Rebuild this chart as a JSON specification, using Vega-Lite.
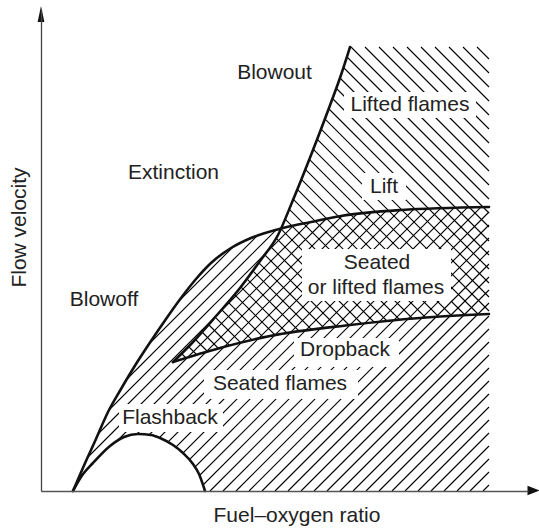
{
  "$schema": "https://vega.github.io/schema/vega-lite/v6.json",
  "width": 487,
  "height": 481,
  "autosize": {"type": "none"},
  "padding": {"left": 41, "top": 10, "right": 11, "bottom": 38},
  "config": {"view": {"stroke": null}, "font": "Liberation Sans"},
  "datasets": {
    "hatchB": [
      {"u":132,"v":132,"u2":135,"v2":129},{"u":132,"v":146,"u2":149,"v2":129},{"u":132,"v":160,"u2":163,"v2":129},
      {"u":132,"v":174,"u2":177,"v2":129},{"u":132,"v":188,"u2":191,"v2":129},{"u":132,"v":202,"u2":205,"v2":129},
      {"u":132,"v":216,"u2":219,"v2":129},{"u":132,"v":230,"u2":233,"v2":129},{"u":132,"v":244,"u2":247,"v2":129},
      {"u":132,"v":258,"u2":261,"v2":129},{"u":132,"v":272,"u2":275,"v2":129},{"u":132,"v":286,"u2":289,"v2":129},
      {"u":132,"v":300,"u2":303,"v2":129},{"u":132,"v":314,"u2":317,"v2":129},{"u":132,"v":328,"u2":331,"v2":129},
      {"u":132,"v":342,"u2":345,"v2":129},{"u":132,"v":356,"u2":359,"v2":129},{"u":132,"v":370,"u2":373,"v2":129},
      {"u":132,"v":384,"u2":387,"v2":129},{"u":132,"v":398,"u2":401,"v2":129},{"u":132,"v":412,"u2":415,"v2":129},
      {"u":132,"v":426,"u2":429,"v2":129},{"u":132,"v":440,"u2":443,"v2":129},{"u":142,"v":444,"u2":448,"v2":138},
      {"u":156,"v":444,"u2":448,"v2":152},{"u":170,"v":444,"u2":448,"v2":166},{"u":184,"v":444,"u2":448,"v2":180},
      {"u":198,"v":444,"u2":448,"v2":194},{"u":212,"v":444,"u2":448,"v2":208},{"u":226,"v":444,"u2":448,"v2":222},
      {"u":240,"v":444,"u2":448,"v2":236},{"u":254,"v":444,"u2":448,"v2":250},{"u":268,"v":444,"u2":448,"v2":264},
      {"u":282,"v":444,"u2":448,"v2":278},{"u":296,"v":444,"u2":448,"v2":292},{"u":310,"v":444,"u2":448,"v2":306},
      {"u":324,"v":444,"u2":448,"v2":320},{"u":338,"v":444,"u2":448,"v2":334},{"u":352,"v":444,"u2":448,"v2":348},
      {"u":366,"v":444,"u2":448,"v2":362},{"u":380,"v":444,"u2":448,"v2":376},{"u":394,"v":444,"u2":448,"v2":390},
      {"u":408,"v":444,"u2":448,"v2":404},{"u":422,"v":444,"u2":448,"v2":418},{"u":436,"v":444,"u2":448,"v2":432}
    ],
    "hatchA": [
      {"u":33,"v":85,"u2":192,"v2":244},{"u":33,"v":72,"u2":215.8,"v2":254.8},{"u":33,"v":59,"u2":234.7,"v2":260.7},
      {"u":33,"v":46,"u2":252.2,"v2":265.2},{"u":33,"v":33,"u2":268.7,"v2":268.7},{"u":33,"v":20,"u2":285,"v2":272},
      {"u":33,"v":7,"u2":301.1,"v2":275.1},{"u":39,"v":0,"u2":315.6,"v2":276.6},{"u":52,"v":0,"u2":330,"v2":278},
      {"u":65,"v":0,"u2":344.4,"v2":279.4},{"u":78,"v":0,"u2":358.9,"v2":280.9},{"u":91,"v":0,"u2":372.4,"v2":281.4},
      {"u":104,"v":0,"u2":385.9,"v2":281.9},{"u":117,"v":0,"u2":399.3,"v2":282.3},{"u":130,"v":0,"u2":412.8,"v2":282.8},
      {"u":143,"v":0,"u2":426.3,"v2":283.3},{"u":156,"v":0,"u2":439.7,"v2":283.7},{"u":169,"v":0,"u2":448,"v2":279},
      {"u":182,"v":0,"u2":448,"v2":266},{"u":195,"v":0,"u2":448,"v2":253},{"u":208,"v":0,"u2":448,"v2":240},
      {"u":221,"v":0,"u2":448,"v2":227},{"u":234,"v":0,"u2":448,"v2":214},{"u":247,"v":0,"u2":448,"v2":201},
      {"u":260,"v":0,"u2":448,"v2":188},{"u":273,"v":0,"u2":448,"v2":175},{"u":286,"v":0,"u2":448,"v2":162},
      {"u":299,"v":0,"u2":448,"v2":149},{"u":312,"v":0,"u2":448,"v2":136},{"u":325,"v":0,"u2":448,"v2":123},
      {"u":338,"v":0,"u2":448,"v2":110},{"u":351,"v":0,"u2":448,"v2":97},{"u":364,"v":0,"u2":448,"v2":84},
      {"u":377,"v":0,"u2":448,"v2":71},{"u":390,"v":0,"u2":448,"v2":58},{"u":403,"v":0,"u2":448,"v2":45},
      {"u":416,"v":0,"u2":448,"v2":32},{"u":429,"v":0,"u2":448,"v2":19},{"u":442,"v":0,"u2":448,"v2":6}
    ],
    "upper": [
      {"u":32,"v":0},{"u":45,"v":30},{"u":55,"v":52},{"u":67,"v":79},{"u":80,"v":102},{"u":95,"v":127},
      {"u":110,"v":150},{"u":125,"v":172},{"u":140,"v":193},{"u":155,"v":212},{"u":170,"v":228},{"u":190,"v":243},
      {"u":210,"v":253},{"u":242,"v":263},{"u":270,"v":269},{"u":300,"v":275},{"u":360,"v":281},{"u":448,"v":284}
    ],
    "flash": [
      {"u":32,"v":0},{"u":40,"v":14},{"u":52,"v":28},{"u":69,"v":45},{"u":83,"v":54},{"u":97,"v":57},
      {"u":110,"v":56},{"u":119,"v":53},{"u":132,"v":46},{"u":142,"v":38},{"u":152,"v":27},{"u":158,"v":17},{"u":164,"v":0}
    ],
    "blowout": [
      {"u":132,"v":129},{"u":152,"v":149},{"u":176,"v":176},{"u":199,"v":203},{"u":219,"v":230},
      {"u":237,"v":256},{"u":252,"v":291},{"u":272,"v":341},{"u":288,"v":383},{"u":300,"v":416},{"u":309,"v":444}
    ],
    "blowoutMask": [
      {"u":128,"v":125},{"u":132,"v":129},{"u":152,"v":149},{"u":176,"v":176},{"u":199,"v":203},{"u":219,"v":230},
      {"u":237,"v":256},{"u":252,"v":291},{"u":272,"v":341},{"u":288,"v":383},{"u":300,"v":416},{"u":309,"v":444},{"u":311,"v":451}
    ],
    "drop": [
      {"u":132,"v":129},{"u":179,"v":143},{"u":229,"v":155},{"u":309,"v":166},{"u":379,"v":173},{"u":448,"v":177}
    ],
    "boxes": [
      {"u":303,"u2":435,"v":373,"v2":399},
      {"u":321,"u2":365,"v":291,"v2":318},
      {"u":261,"u2":410,"v":190,"v2":242},
      {"u":253,"u2":358,"v":124,"v2":153},
      {"u":163,"u2":317,"v":92,"v2":121},
      {"u":78,"u2":182,"v":59,"v2":87}
    ],
    "labels": [
      {"text":"Blowout","u":233.5,"v":418},
      {"text":"Extinction","u":132.5,"v":318},
      {"text":"Lifted flames","u":369,"v":386},
      {"text":"Lift","u":343,"v":304},
      {"text":"Seated","u":336,"v":228},
      {"text":"or lifted flames","u":335,"v":203},
      {"text":"Dropback","u":304,"v":141},
      {"text":"Seated flames","u":239,"v":107},
      {"text":"Flashback","u":129,"v":73},
      {"text":"Blowoff","u":63,"v":191}
    ]
  },
  "encoding": {
    "x": {"field": "u", "type": "quantitative", "scale": {"domain": [0, 487], "nice": false, "zero": false},
      "axis": {"title": "Fuel–oxygen ratio", "domain": true, "domainColor": "#555", "domainWidth": 1.6, "ticks": false, "labels": false, "grid": false, "zindex": 1,
        "titleFont": "Liberation Sans", "titleFontSize": 21, "titleFontWeight": "normal", "titleColor": "#222",
        "titleX": 255.5, "titleY": 30, "titleAlign": "center", "titleBaseline": "alphabetic", "titleAngle": 0}},
    "y": {"field": "v", "type": "quantitative", "scale": {"domain": [0, 481], "nice": false, "zero": false},
      "axis": {"title": "Flow velocity", "domain": true, "domainColor": "#444", "domainWidth": 1.3, "ticks": false, "labels": false, "grid": false, "zindex": 1,
        "titleFont": "Liberation Sans", "titleFontSize": 21, "titleFontWeight": "normal", "titleColor": "#222",
        "titleX": -16, "titleY": 217, "titleAlign": "center", "titleBaseline": "alphabetic", "titleAngle": 270}}
  },
  "layer": [
    {
      "data": {"name": "hatchB"},
      "mark": {"type": "rule", "stroke": "#000", "strokeWidth": 1.1},
      "encoding": {"x2": {"field": "u2"}, "y2": {"field": "v2"}}
    },
    {
      "data": {"name": "blowoutMask"},
      "mark": {"type": "area", "fill": "white", "interpolate": "monotone"},
      "encoding": {"y2": {"datum": 453}}
    },
    {
      "data": {"name": "drop"},
      "mark": {"type": "area", "fill": "white", "interpolate": "monotone"},
      "encoding": {"y2": {"datum": 118}}
    },
    {
      "data": {"name": "hatchA"},
      "mark": {"type": "rule", "stroke": "#000", "strokeWidth": 1.1},
      "encoding": {"x2": {"field": "u2"}, "y2": {"field": "v2"}}
    },
    {
      "data": {"name": "upper"},
      "transform": [{"filter": "datum.u <= 242"}],
      "mark": {"type": "area", "fill": "white", "interpolate": "monotone"},
      "encoding": {"y2": {"datum": 481}}
    },
    {
      "data": {"name": "flash"},
      "mark": {"type": "area", "fill": "white", "interpolate": "monotone"},
      "encoding": {"y2": {"datum": 0}}
    },
    {
      "data": {"name": "boxes"},
      "mark": {"type": "rect", "fill": "white"},
      "encoding": {"x2": {"field": "u2"}, "y2": {"field": "v2"}}
    },
    {
      "data": {"name": "upper"},
      "mark": {"type": "line", "stroke": "#111", "strokeWidth": 2.6, "interpolate": "monotone", "strokeCap": "round"},
      "encoding": {}
    },
    {
      "data": {"name": "flash"},
      "mark": {"type": "line", "stroke": "#111", "strokeWidth": 2.6, "interpolate": "monotone", "strokeCap": "round"},
      "encoding": {}
    },
    {
      "data": {"name": "blowout"},
      "mark": {"type": "line", "stroke": "#111", "strokeWidth": 2.6, "interpolate": "monotone", "strokeCap": "round"},
      "encoding": {}
    },
    {
      "data": {"name": "drop"},
      "mark": {"type": "line", "stroke": "#111", "strokeWidth": 2.6, "interpolate": "monotone", "strokeCap": "round"},
      "encoding": {}
    },
    {
      "data": {"name": "labels"},
      "mark": {"type": "text", "font": "Liberation Sans", "fontSize": 21, "fill": "#222", "align": "center", "baseline": "middle"},
      "encoding": {"text": {"field": "text"}}
    },
    {
      "data": {"values": [{"u": 0, "v": 477}]},
      "mark": {"type": "point", "shape": "M0,-1L0.42,1L-0.42,1Z", "size": 256, "filled": true, "fill": "#111", "opacity": 1, "strokeWidth": 0}
    },
    {
      "data": {"values": [{"u": 492.5, "v": 0.5}]},
      "mark": {"type": "point", "shape": "M1,0L-1,-0.8L-1,0.8Z", "size": 144, "filled": true, "fill": "#111", "opacity": 1, "strokeWidth": 0}
    }
  ]
}
